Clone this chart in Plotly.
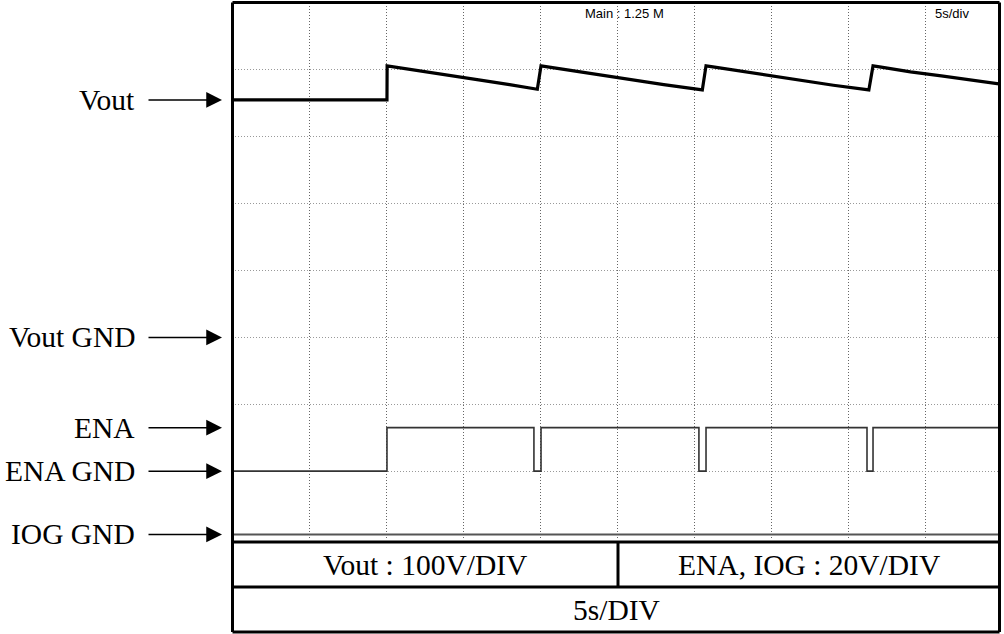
import plotly.graph_objects as go

# ---------------- data (physical units) ----------------
# time in seconds (5 s/div)
vout_t = [0, 10.05, 10.06, 10.6, 12, 14, 16, 18, 19.8,
          20.04, 20.6, 22, 24, 26, 28, 30.5,
          30.74, 31.3, 33, 35, 37, 39, 41.3,
          41.57, 42.1, 44, 46, 48, 49.74]
# Vout in volts (100 V/div)
vout_v = [355, 355, 406, 404, 399, 392, 385, 378, 371,
          406, 404, 399, 392, 385, 378, 370,
          406, 404, 398, 391, 384, 377, 370,
          406, 404, 397, 391, 385, 379]

ena_t = [0, 10.05, 10.05, 19.58, 19.58, 20.04, 20.04, 30.28, 30.28,
         30.74, 30.74, 41.18, 41.18, 41.57, 41.57, 49.74]
ena_v = [0, 0, 13, 13, 0, 0, 13, 13, 0, 0, 13, 13, 0, 0, 13, 13]

iog_t = [0, 49.74]
iog_v = [0, 0]

label_names = ["Vout", "Vout GND", "ENA", "ENA GND", "IOG GND"]
label_axes = ["y", "y", "y2", "y2", "y3"]
label_levels = [355, 0, 13, 0, 0]

table_row1 = ["Vout : 100V/DIV", "ENA, IOG : 20V/DIV"]
table_row2 = "5s/DIV"
scope_texts = ["Main : 1.25 M", "5s/div"]

# ---------------- figure ----------------
fig = go.Figure()
fig.add_trace(go.Scatter(x=iog_t, y=iog_v, yaxis="y3", mode="lines",
                         line=dict(color="#555555", width=2.2), hoverinfo="skip"))
fig.add_trace(go.Scatter(x=ena_t, y=ena_v, yaxis="y2", mode="lines",
                         line=dict(color="#333333", width=1.6), hoverinfo="skip"))
fig.add_trace(go.Scatter(x=vout_t, y=vout_v, yaxis="y", mode="lines",
                         line=dict(color="black", width=3.2), hoverinfo="skip"))

W, H = 1004, 634
L, R, T, B = 232, 5, 3, 96
pw = W - L - R
ph = H - T - B


def px(xp):
    return (xp - L) / pw


def py(yp):
    return (H - B - yp) / ph


fig.update_layout(
    width=W, height=H, autosize=False,
    margin=dict(l=L, r=R, t=T, b=B),
    paper_bgcolor="white", plot_bgcolor="white",
    showlegend=False,
    xaxis=dict(range=[0, 49.74], dtick=5, tick0=0, showgrid=True,
               gridcolor="#666666", griddash="1px,2px", gridwidth=1,
               showticklabels=False, ticks="", zeroline=False, showline=False),
    yaxis=dict(range=[-300, 500], dtick=100, tick0=0, showgrid=True,
               gridcolor="#999999", griddash="1px,2px", gridwidth=1,
               showticklabels=False, ticks="", zeroline=False, showline=False),
    yaxis2=dict(range=[-20, 140], overlaying="y", showgrid=False,
                showticklabels=False, ticks="", zeroline=False, showline=False),
    yaxis3=dict(range=[-1.05, 158.95], overlaying="y", showgrid=False,
                showticklabels=False, ticks="", zeroline=False, showline=False),
)

# borders and table lines
bw = 3
x_left, x_right = px(232.5), px(999.5)
y_top, y_tab, y_row, y_bot = py(2.5), py(542), py(587), py(632)
x_div = px(618)
shapes = [
    dict(type="line", x0=x_left, x1=x_left, y0=y_top, y1=y_bot),
    dict(type="line", x0=x_right, x1=x_right, y0=y_top, y1=y_bot),
    dict(type="line", x0=x_left, x1=x_right, y0=y_top, y1=y_top),
    dict(type="line", x0=x_left, x1=x_right, y0=y_tab, y1=y_tab),
    dict(type="line", x0=x_left, x1=x_right, y0=y_row, y1=y_row),
    dict(type="line", x0=x_left, x1=x_right, y0=y_bot, y1=y_bot),
    dict(type="line", x0=x_div, x1=x_div, y0=y_tab, y1=y_row),
]
for s in shapes:
    s.update(xref="paper", yref="paper", line=dict(color="black", width=bw))
fig.update_layout(shapes=shapes)

serif = "Liberation Serif, Times New Roman, serif"
fs = 29.5
ann = []
# left labels and arrows
for name, ax_, lvl in zip(label_names, label_axes, label_levels):
    ann.append(dict(text=name, xref="paper", yref=ax_, x=px(137), y=lvl,
                    xanchor="right", yanchor="middle", showarrow=False,
                    font=dict(family=serif, size=fs, color="black")))
    ann.append(dict(text="", xref="paper", yref=ax_, x=px(222), y=lvl,
                    showarrow=True, ax=-75, ay=0, axref="pixel", ayref="pixel",
                    arrowhead=2, arrowsize=2.1, arrowwidth=1.5, arrowcolor="black",
                    standoff=0, startstandoff=0))

# table texts
ann.append(dict(text=table_row1[0], xref="paper", yref="paper",
                x=(x_left + x_div) / 2, y=(y_tab + y_row) / 2,
                xanchor="center", yanchor="middle", showarrow=False,
                font=dict(family=serif, size=fs, color="black")))
ann.append(dict(text=table_row1[1], xref="paper", yref="paper",
                x=(x_div + x_right) / 2, y=(y_tab + y_row) / 2,
                xanchor="center", yanchor="middle", showarrow=False,
                font=dict(family=serif, size=fs, color="black")))
ann.append(dict(text=table_row2, xref="paper", yref="paper",
                x=(x_left + x_right) / 2, y=(y_row + y_bot) / 2,
                xanchor="center", yanchor="middle", showarrow=False,
                font=dict(family=serif, size=fs, color="black")))

# scope screen texts
sans = "Liberation Sans, Arial, sans-serif"
ann.append(dict(text=scope_texts[0], xref="paper", yref="paper",
                x=px(624), y=py(13), xanchor="center", yanchor="middle",
                showarrow=False, font=dict(family=sans, size=13, color="black")))
ann.append(dict(text=scope_texts[1], xref="paper", yref="paper",
                x=px(952), y=py(13), xanchor="center", yanchor="middle",
                showarrow=False, font=dict(family=sans, size=13, color="black")))
fig.update_layout(annotations=ann)

fig.write_html("out.html")
